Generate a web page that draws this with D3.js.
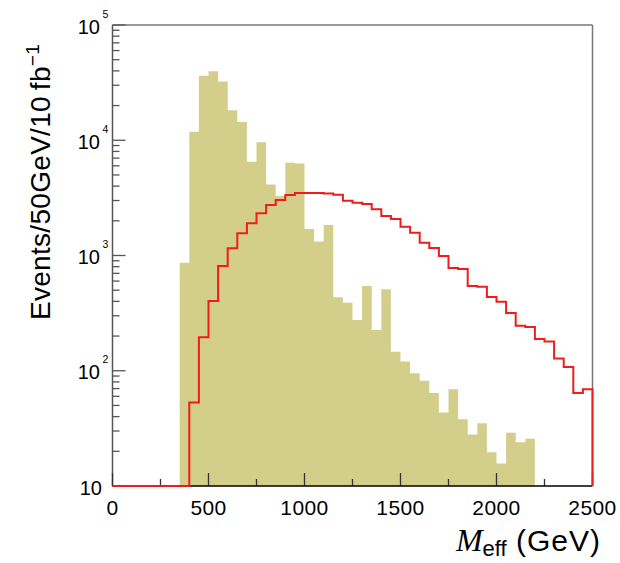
<!DOCTYPE html>
<html>
<head>
<meta charset="utf-8">
<script src="https://cdn.jsdelivr.net/npm/d3@7"></script>
<style>
  html, body { margin: 0; padding: 0; background: #fff; }
  svg { display: block; }
  text { font-family: "Liberation Sans", Arial, sans-serif; fill: #000; }
</style>
</head>
<body>
<svg id="chart" width="620" height="563"></svg>
<script>
// ---- data ----
const binWidth = 50;                       // GeV per bin
// background (filled histogram), bins starting at 350 GeV
const bgStart = 350;
const bgValues = [866, 11860, 36300, 39600, 32400, 18200, 14400, 6520, 9600, 4140,
                  3280, 6380, 6270, 1700, 1320, 1840, 434, 389, 276, 543,
                  226, 509, 146, 120, 95, 82, 64, 43.5, 69, 38,
                  28, 35, 19.6, 15.7, 29, 24, 25.7];
// signal (red line), bins starting at 0 GeV
const sigStart = 0;
const sigValues = [0, 0, 0, 0, 0, 0, 0, 0, 53, 195,
                   403, 811, 1153, 1558, 1902, 2322, 2742, 3030, 3350, 3485,
                   3490, 3480, 3450, 3370, 2985, 2870, 2800, 2520, 2200, 2075,
                   1778, 1578, 1290, 1160, 991, 780, 765, 543, 536, 437,
                   397, 317, 246, 240, 189, 179, 128, 108, 64, 69];
const xTickValues = [0, 500, 1000, 1500, 2000, 2500];
const xMinorTicks = [250, 750, 1250, 1750, 2250];
const yDecades = [1, 2, 3, 4, 5];          // exponents: 10 ... 1e5
const xDomain = [0, 2500];
const yDomain = [10, 1e5];

// ---- layout ----
const svg = d3.select("#chart");
const L = 112.5, R = 592.5, T = 25, B = 486;
const x = d3.scaleLinear().domain(xDomain).range([L, R]);
const y = d3.scaleLog().domain(yDomain).range([B, T]);
const yc = v => y(Math.max(v, yDomain[0]));

// ---- background filled histogram ----
const bgPts = bgValues.map((v, i) => ({e: bgStart + i * binWidth, v}));
bgPts.push({e: bgStart + bgValues.length * binWidth, v: bgValues[bgValues.length - 1]});
const area = d3.area().curve(d3.curveStepAfter)
  .x(d => x(d.e)).y0(B).y1(d => yc(d.v));
svg.append("path").attr("d", area(bgPts)).attr("fill", "#d3cf8a").attr("stroke", "none");

// ---- frame ----
svg.append("line").attr("x1", L).attr("x2", R).attr("y1", T).attr("y2", T)
  .attr("stroke", "#777").attr("stroke-width", 1.5);
svg.append("line").attr("x1", R).attr("x2", R).attr("y1", T).attr("y2", B)
  .attr("stroke", "#777").attr("stroke-width", 1.5);

// ---- y axis (log, ticks inside) ----
const yMinor = [];
yDecades.slice(0, -1).forEach(p => { for (let k = 2; k <= 9; k++) yMinor.push(k * Math.pow(10, p)); });
const yAxisG = svg.append("g");
yAxisG.append("line").attr("x1", L).attr("x2", L).attr("y1", T).attr("y2", B)
  .attr("stroke", "#555").attr("stroke-width", 1.5);
yAxisG.selectAll("line.maj").data(yDecades).join("line").attr("class", "maj")
  .attr("x1", L).attr("x2", L + 13).attr("y1", d => y(Math.pow(10, d))).attr("y2", d => y(Math.pow(10, d)))
  .attr("stroke", "#555").attr("stroke-width", 1.3);
yAxisG.selectAll("line.min").data(yMinor).join("line").attr("class", "min")
  .attr("x1", L).attr("x2", L + 7).attr("y1", d => y(d)).attr("y2", d => y(d))
  .attr("stroke", "#555").attr("stroke-width", 1.3);
const yl = yAxisG.selectAll("g.lab").data(yDecades).join("g").attr("class", "lab");
yl.append("text").attr("x", d => d === 1 ? 102 : 100).attr("y", d => y(Math.pow(10, d)) + 8.5)
  .attr("text-anchor", "end").attr("font-size", 20).text("10");
yl.filter(d => d !== 1).append("text").attr("x", 102.5).attr("y", d => y(Math.pow(10, d)) - 7.5)
  .attr("font-size", 10.5).text(d => d);

// ---- x axis ----
const xAxisG = svg.append("g");
xAxisG.selectAll("line.maj").data(xTickValues).join("line").attr("class", "maj")
  .attr("x1", d => x(d)).attr("x2", d => x(d)).attr("y1", B).attr("y2", B - 13)
  .attr("stroke", "#333").attr("stroke-width", 1.3);
xAxisG.selectAll("line.min").data(xMinorTicks).join("line").attr("class", "min")
  .attr("x1", d => x(d)).attr("x2", d => x(d)).attr("y1", B).attr("y2", B - 7)
  .attr("stroke", "#333").attr("stroke-width", 1.3);
xAxisG.append("line").attr("x1", L).attr("x2", R).attr("y1", B).attr("y2", B)
  .attr("stroke", "#000").attr("stroke-width", 1.5);
xAxisG.selectAll("text").data(xTickValues).join("text")
  .attr("x", d => x(d)).attr("y", 515).attr("text-anchor", "middle")
  .attr("font-size", 21).attr("letter-spacing", 0.4).text(d => d);

// ---- signal red step line ----
const sigPts = sigValues.map((v, i) => ({e: sigStart + i * binWidth, v}));
sigPts.push({e: sigStart + sigValues.length * binWidth, v: sigValues[sigValues.length - 1]});
sigPts.push({e: sigStart + sigValues.length * binWidth, v: 0});
const line = d3.line().curve(d3.curveStepAfter).x(d => x(d.e)).y(d => yc(d.v));
svg.append("path").attr("d", line(sigPts)).attr("fill", "none")
  .attr("stroke", "#ee1c1c").attr("stroke-width", 2).attr("stroke-linejoin", "miter");

// ---- axis titles ----
const yt = svg.append("text").attr("transform", "translate(50,182) rotate(-90)")
  .attr("text-anchor", "middle").attr("font-size", 28).attr("letter-spacing", 0.3);
yt.append("tspan").text("Events/50GeV/10\u2009fb");
yt.append("tspan").attr("font-size", 19).attr("dy", -11).text("\u22121");

const xt = svg.append("text").attr("x", 601).attr("y", 551).attr("text-anchor", "end").attr("font-size", 30);
xt.append("tspan").attr("font-family", "'Liberation Serif', 'DejaVu Serif', serif").attr("font-style", "italic")
  .attr("font-size", 32).text("M");
xt.append("tspan").attr("font-size", 22).attr("dy", 5).text("eff");
xt.append("tspan").attr("dy", -5).attr("letter-spacing", 1).text(" (GeV)");
</script>
</body>
</html>
